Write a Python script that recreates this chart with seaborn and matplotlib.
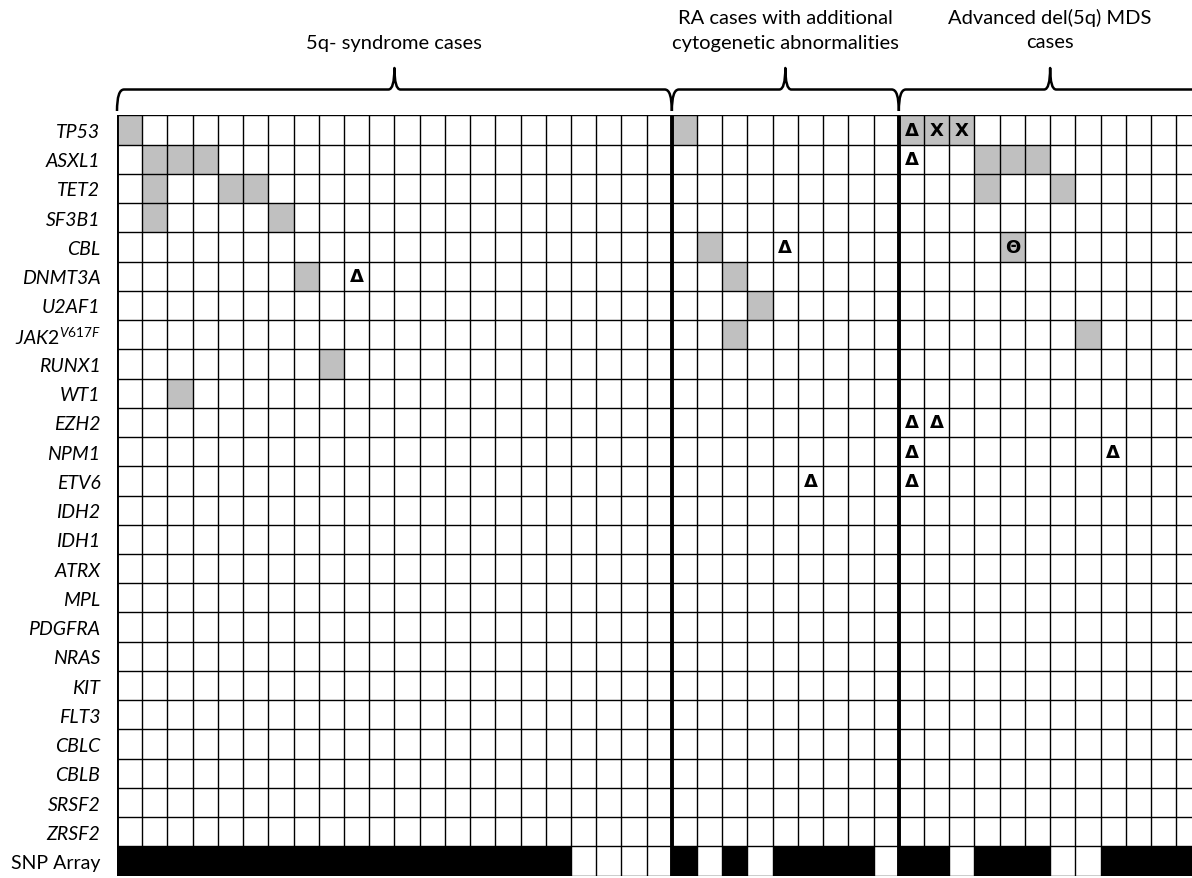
import numpy as np
import matplotlib
matplotlib.use("Agg")
import matplotlib.pyplot as plt
from matplotlib.colors import ListedColormap
from matplotlib.path import Path
from matplotlib.patches import PathPatch
import seaborn as sns

# ---- data -------------------------------------------------------------
genes = ["TP53", "ASXL1", "TET2", "SF3B1", "CBL", "DNMT3A", "U2AF1", "JAK2",
         "RUNX1", "WT1", "EZH2", "NPM1", "ETV6", "IDH2", "IDH1", "ATRX", "MPL",
         "PDGFRA", "NRAS", "KIT", "FLT3", "CBLC", "CBLB", "SRSF2", "ZRSF2"]

section_titles = ["5q- syndrome cases",
                  "RA cases with additional\ncytogenetic abnormalities",
                  "Advanced del(5q) MDS\ncases"]
section_sizes = [22, 9, 12]

# mutated cases per gene (case index across all sections)
mutated_cases = {
    "TP53":   [0, 22, 31, 32, 33],
    "ASXL1":  [1, 2, 3, 34, 35, 36],
    "TET2":   [1, 4, 5, 34, 37],
    "SF3B1":  [1, 6],
    "CBL":    [23, 35],
    "DNMT3A": [7, 24],
    "U2AF1":  [25],
    "JAK2":   [24, 38],
    "RUNX1":  [8],
    "WT1":    [2],
}

# symbols written inside cells: (gene, case, symbol)
cell_symbols = [
    ("DNMT3A", 9, "Δ"),
    ("CBL", 26, "Δ"),
    ("ETV6", 27, "Δ"),
    ("TP53", 31, "Δ"), ("TP53", 32, "X"), ("TP53", 33, "X"),
    ("ASXL1", 31, "Δ"),
    ("CBL", 35, "Θ"),
    ("EZH2", 31, "Δ"), ("EZH2", 32, "Δ"),
    ("NPM1", 31, "Δ"), ("NPM1", 39, "Δ"),
    ("ETV6", 31, "Δ"),
]

# SNP array performed (1) or not (0), per case
snp_array = [1, 1, 1, 1, 1, 1, 1, 1, 1, 1, 1, 1, 1, 1, 1, 1, 1, 1, 0, 0, 0, 0,
             1, 0, 1, 0, 1, 1, 1, 1, 0,
             1, 1, 0, 1, 1, 1, 0, 0, 1, 1, 1, 1]

# ---- build the matrix ---------------------------------------------------
n_cases = sum(section_sizes)
row_labels = genes + ["SNP Array"]
n_rows = len(row_labels)
matrix = np.zeros((n_rows, n_cases))
for g, cases in mutated_cases.items():
    matrix[genes.index(g), cases] = 1
matrix[-1, :] = np.array(snp_array) * 2

annot = np.full(matrix.shape, "", dtype=object)
for g, c, s in cell_symbols:
    annot[genes.index(g), c] = s

# ---- figure --------------------------------------------------------------
W, H = 1192, 879
fig = plt.figure(figsize=(W / 100, H / 100), dpi=100)
plt.rcParams["mathtext.fontset"] = "custom"
plt.rcParams["mathtext.it"] = "Lato:italic"
plt.rcParams["mathtext.rm"] = "Lato"

left_px, top_px = 117, 116.4
cell_w, cell_h = 25.22, 29.24
grid_h = cell_h * n_rows
ax = fig.add_axes([left_px / W, (H - top_px - grid_h) / H,
                   (W - left_px) / W, grid_h / H])

cmap = ListedColormap(["#FFFFFF", "#C0C0C0", "#000000"])
sns.heatmap(matrix, ax=ax, cmap=cmap, vmin=0, vmax=2, cbar=False,
            linewidths=0, annot=annot, fmt="",
            annot_kws=dict(color="black", fontsize=13, fontweight="bold",
                           family=["DejaVu Sans"]),
            xticklabels=False, yticklabels=False)

ax.set_xlim(0, (W - left_px) / cell_w)
ax.set_ylim(n_rows, 0)

# cell grid
ax.hlines(np.arange(n_rows + 1), 0, n_cases, color="black", lw=1.0, zorder=4)
ax.vlines(np.arange(n_cases + 1), 0, n_rows, color="black", lw=1.0, zorder=4)

# section separators
bounds = np.concatenate([[0], np.cumsum(section_sizes)])
ax.vlines(bounds[:-1], 0, n_rows, color="black", lw=2.8, zorder=5)

# row labels
ax.set_yticks(np.arange(n_rows) + 0.5)
labels = [r"$\mathit{JAK2}^{\mathit{V617F}}$" if g == "JAK2" else g for g in genes]
ax.set_yticklabels(labels + ["SNP Array"], family="Lato", fontsize=14)
for t in ax.get_yticklabels()[:-1]:
    t.set_fontstyle("italic")
ax.tick_params(axis="y", length=0, pad=12, rotation=0)
ax.tick_params(axis="x", length=0)


# curly braces above each group
def brace(x0, x1):
    dx = 7 / cell_w
    dxc = 6 / cell_w
    y_end = -(top_px - 112) / cell_h
    y_line = -(top_px - 90.5) / cell_h
    y_tip = -(top_px - 69) / cell_h
    xc = (x0 + x1) / 2
    verts = [(x0, y_end), (x0, y_line), (x0 + dx, y_line),
             (xc - dxc, y_line), (xc, y_line), (xc, y_tip),
             (xc, y_line), (xc + dxc, y_line),
             (x1 - dx, y_line), (x1, y_line), (x1, y_end)]
    codes = [Path.MOVETO, Path.CURVE3, Path.CURVE3,
             Path.LINETO, Path.CURVE3, Path.CURVE3,
             Path.CURVE3, Path.CURVE3,
             Path.LINETO, Path.CURVE3, Path.CURVE3]
    ax.add_patch(PathPatch(Path(verts, codes), fill=False, lw=1.8,
                           edgecolor="black", clip_on=False,
                           capstyle="butt", joinstyle="round"))


for i, title in enumerate(section_titles):
    x0, x1 = bounds[i], bounds[i + 1]
    brace(x0, x1)
    lines = title.split("\n")
    line_y = [43] if len(lines) == 1 else [18, 43]
    for txt, ypx in zip(lines, line_y):
        ax.text((x0 + x1) / 2, -(top_px - ypx) / cell_h, txt,
                ha="center", va="center", fontsize=14.5, family="Lato",
                clip_on=False)

fig.savefig("out.png", dpi=100)
